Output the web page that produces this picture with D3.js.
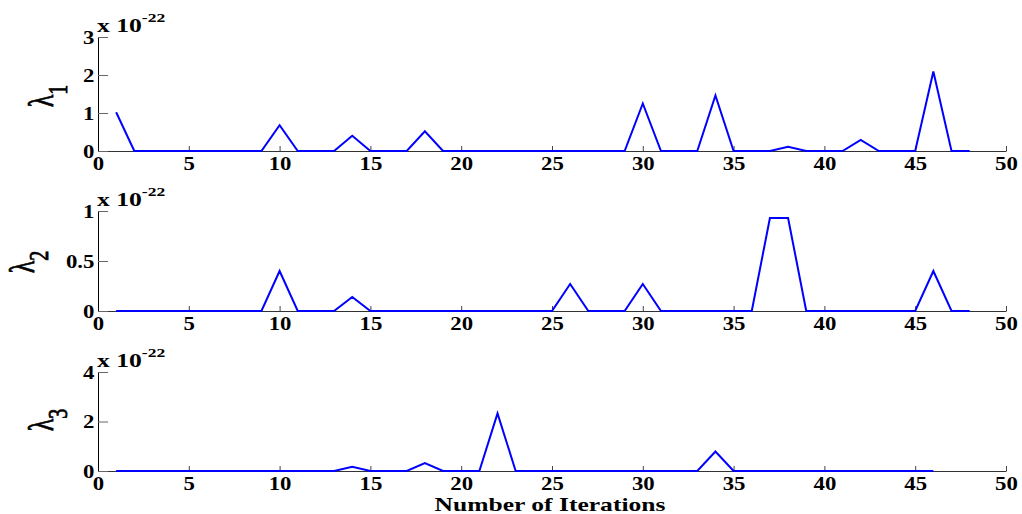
<!DOCTYPE html>
<html>
<head>
<meta charset="utf-8">
<script src="https://cdn.jsdelivr.net/npm/d3@7"></script>
<style>
  body { margin: 0; background: #fff; }
  .tick text { font-family: "Liberation Serif", "Times New Roman", serif; font-weight: bold; font-size: 19px; fill: #000; }
</style>
</head>
<body>
<script>
"use strict";

// lambda values (x 10^-22) per iteration, starting at iteration 1
var lambda1 = [1.02, 0, 0, 0, 0, 0, 0, 0, 0, 0.68,
  0, 0, 0, 0.40, 0, 0, 0, 0.52, 0, 0,
  0, 0, 0, 0, 0, 0, 0, 0, 0, 1.25,
  0, 0, 0, 1.46, 0, 0, 0, 0.11, 0, 0,
  0, 0.29, 0, 0, 0, 2.09, 0, 0];

var lambda2 = [0, 0, 0, 0, 0, 0, 0, 0, 0, 0.40,
  0, 0, 0, 0.14, 0, 0, 0, 0, 0, 0,
  0, 0, 0, 0, 0, 0.27, 0, 0, 0, 0.27,
  0, 0, 0, 0, 0, 0, 0.93, 0.93, 0, 0,
  0, 0, 0, 0, 0, 0.40, 0, 0];

var lambda3 = [0, 0, 0, 0, 0, 0, 0, 0, 0, 0,
  0, 0, 0, 0.17, 0, 0, 0, 0.32, 0, 0,
  0, 2.33, 0, 0, 0, 0, 0, 0, 0, 0,
  0, 0, 0, 0.79, 0, 0, 0, 0, 0, 0,
  0, 0, 0, 0, 0, 0];

var xTicks = [0, 5, 10, 15, 20, 25, 30, 35, 40, 45, 50];
var yTicks1 = [0, 1, 2, 3];
var yTicks2 = [0, 0.5, 1];
var yTicks3 = [0, 2, 4];

function init() {
  var w = 1022;
  var h = 514;
  var serif = "'Liberation Serif', 'Times New Roman', serif";

  var svg = d3.select("body")
    .append("svg")
    .attr("width", w)
    .attr("height", h);

  var xScale = d3.scaleLinear()
    .domain([0, 50])
    .range([98, 1006]);

  var panels = [
    { data: lambda1, ticks: yTicks1, max: 3, top: 37, bottom: 151, sub: "1", labelX: 53, labelY: 96 },
    { data: lambda2, ticks: yTicks2, max: 1, top: 211, bottom: 311, sub: "2", labelX: 34, labelY: 262 },
    { data: lambda3, ticks: yTicks3, max: 4, top: 372, bottom: 471, sub: "3", labelX: 53, labelY: 420 }
  ];

  panels.forEach(function (p) {
    var yScale = d3.scaleLinear()
      .domain([0, p.max])
      .range([p.bottom, p.top]);

    var g = svg.append("g");

    // x axis, ticks pointing up
    var xAxis = g.append("g")
      .attr("transform", "translate(0," + p.bottom + ")")
      .call(d3.axisBottom(xScale)
        .tickValues(xTicks)
        .tickSize(-5)
        .tickSizeOuter(0)
        .tickPadding(6)
        .tickFormat(d3.format("d")));
    xAxis.select(".domain").attr("stroke", "#333");
    xAxis.selectAll(".tick line").attr("stroke", "#444");
    xAxis.selectAll(".tick text").attr("transform", "scale(1.2,1)");

    // y axis, ticks pointing right
    var yAxis = g.append("g")
      .attr("transform", "translate(" + xScale(0) + ",0)")
      .call(d3.axisLeft(yScale)
        .tickValues(p.ticks)
        .tickSize(-10)
        .tickSizeOuter(0)
        .tickPadding(3)
        .tickFormat(d3.format("~g")));
    yAxis.select(".domain").attr("stroke", "#000");
    yAxis.selectAll(".tick line").attr("stroke", "#666");
    yAxis.selectAll(".tick text").attr("transform", "scale(1.2,1)");

    // the series line
    var line = d3.line()
      .x(function (d, i) { return xScale(i + 1); })
      .y(function (d) { return yScale(d); });

    g.append("path")
      .datum(p.data)
      .attr("d", line)
      .attr("fill", "none")
      .attr("stroke", "#0000ff")
      .attr("stroke-width", 2);

    // exponent label
    var exp = g.append("text")
      .attr("transform", "translate(" + (xScale(0) - 1) + "," + (p.top - 5) + ") scale(1.35,1)")
      .attr("font-family", serif)
      .attr("font-weight", "bold")
      .attr("font-size", "19px");
    exp.append("tspan").text("x 10");
    exp.append("tspan")
      .attr("dy", -10)
      .attr("font-size", "13px")
      .text("-22");

    // y label, lambda with subscript
    var lab = g.append("text")
      .attr("transform", "translate(" + p.labelX + "," + p.labelY + ") scale(1.4,1) rotate(-90)")
      .attr("text-anchor", "middle")
      .attr("font-family", serif)
      .attr("font-size", "26px")
      .attr("stroke", "#000")
      .attr("stroke-width", 0.6);
    lab.append("tspan").text("λ");
    lab.append("tspan")
      .attr("dy", 10)
      .attr("font-size", "20px")
      .text(p.sub);
  });

  svg.append("text")
    .attr("transform", "translate(550,511) scale(1.42,1)")
    .attr("text-anchor", "middle")
    .attr("font-family", serif)
    .attr("font-weight", "bold")
    .attr("font-size", "18px")
    .text("Number of Iterations");
}

window.onload = init;
</script>
</body>
</html>
